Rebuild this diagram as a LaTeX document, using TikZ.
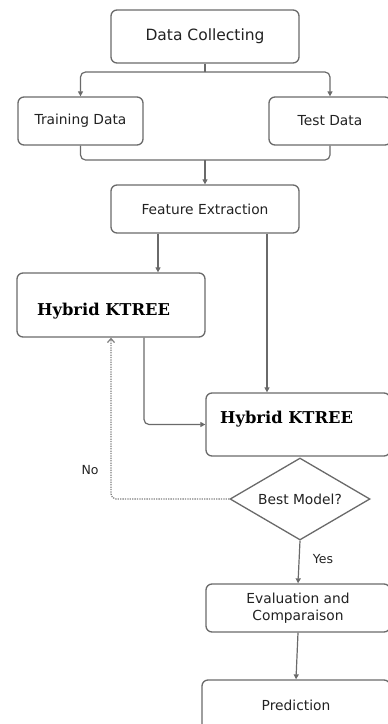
\documentclass[tikz,border=0pt]{standalone}
\usepackage{fontspec}
\usetikzlibrary{arrows.meta,shapes.geometric}
\newfontfamily\dvs{DejaVu Sans}
\newfontfamily\dvsb{DejaVu Serif}
\definecolor{ln}{HTML}{6A6A6A}
\definecolor{tx}{HTML}{222222}
\begin{document}
\begin{tikzpicture}[x=1pt,y=-1pt,
  box/.style={draw=ln, line width=1.3pt, rounded corners=6pt, fill=white, text=tx,
    font=\dvs\fontsize{13.8}{16.5}\selectfont, align=center, inner sep=0pt},
  conn/.style={draw=ln, line width=1.2pt, rounded corners=5pt},
  arr/.style={conn, -{Triangle[length=5pt,width=5pt]}},
  dotarr/.style={draw=ln!85, line width=1.2pt, dash pattern=on 1.3pt off 1.1pt,
    rounded corners=5pt, -{Straight Barb[length=4pt,width=7pt]}},
  lbl/.style={text=tx, font=\dvs\fontsize{12.5}{15}\selectfont, inner sep=0pt},
  hk/.style={text=black, font=\dvsb\bfseries\fontsize{16.3}{18}\selectfont, inner sep=0pt, anchor=base west}
]
\useasboundingbox (0,0) rectangle (388,724);
\clip (0,0) rectangle (388,724);

\node[box, minimum width=188pt, minimum height=53pt, font=\dvs\fontsize{15.5}{18}\selectfont] (dc) at (205,36.5) {Data Collecting};
\node[box, minimum width=125pt, minimum height=48pt] (tr) at (80.5,121) {Training Data};
\node[box, minimum width=122pt, minimum height=48pt] (te) at (330,121) {Test Data};
\node[box, minimum width=188pt, minimum height=48pt] (fe) at (205,209) {Feature Extraction};
\node[box, minimum width=188pt, minimum height=64pt] (h1) at (111,305) {};
\node[hk] (h1t) at (37,315.5) {Hybrid KTREE};
\node[box, minimum width=184pt, minimum height=63pt] (h2) at (298,424.5) {};
\node[hk] (h2t) at (220,423.5) {Hybrid KTREE};
\node[draw=ln, line width=1.3pt, diamond, aspect=1.7, minimum width=140pt, minimum height=82pt,
  inner sep=0pt, fill=white, text=tx, font=\dvs\fontsize{13.8}{16.5}\selectfont] (bm) at (300,499) {Best Model?};
\node[box, minimum width=184pt, minimum height=48pt] (ev) at (298,608) {Evaluation and\\Comparaison};
\node[box, minimum width=188pt, minimum height=50pt] (pr) at (296,705) {Prediction};

\coordinate (sj) at (205,72);
\draw[conn] (dc.south) -- (sj);
\draw[arr] (sj) -| (tr.north);
\draw[arr] (sj) -| (te.north);

\coordinate (mj) at (205,160);
\draw[conn] (tr.south) |- (mj) -| (te.south);
\draw[arr] (mj) -- (fe.north);

\draw[arr] ([xshift=-47pt]fe.south) -- ([xshift=-47pt]fe.south |- h1.north);
\draw[arr] ([xshift=62pt]fe.south) -- ([xshift=62pt]fe.south |- h2.north);
\draw[arr] ([xshift=33pt]h1.south) |- (h2.west);
\draw[dotarr] (bm.west) -| (h1.south);
\draw[arr] (bm.south) -- (ev.north);
\draw[arr] (ev.south) -- (pr.north);

\node[lbl] (no) at (90,470) {No};
\node[lbl] (yes) at (323,559) {Yes};
\end{tikzpicture}
\end{document}
